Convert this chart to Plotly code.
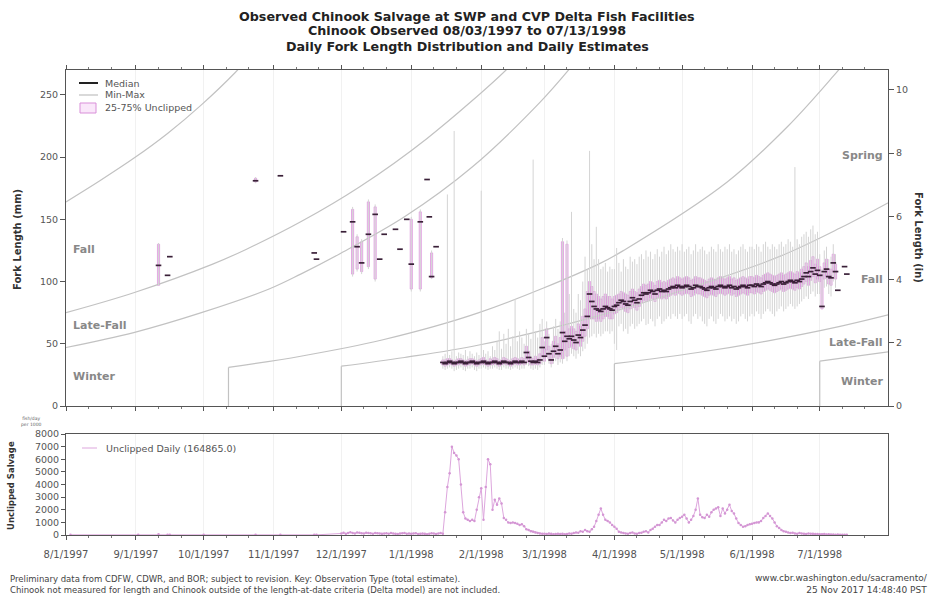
import pandas as pd
import plotly.graph_objects as go

START = pd.Timestamp("1997-08-01")
END = pd.Timestamp("1998-07-31 06:00")

# ---------------- DATA (days counted from 8/1/1997) ----------------
# scattered early fork-length observations (mm)
early_days = [41, 45, 46, 84, 95, 110, 111, 123, 127, 129, 131, 134, 137, 139, 141, 146, 148, 151, 153, 157, 160, 161, 162, 164]
early_med = [113, 105, 120, 181, 185, 123, 118, 140, 148, 128, 115, 138, 154, 118, 138, 142, 126, 150, 114, 148, 182, 152, 104, 128]
early_q1 = [97, 105, 120, 180, 185, 123, 118, 140, 106, 110, 108, 112, 102, 118, 138, 142, 126, 150, 94, 94, 182, 152, 103, 128]
early_q3 = [130, 105, 120, 183, 185, 123, 118, 140, 158, 136, 132, 164, 160, 118, 138, 142, 126, 150, 150, 156, 182, 152, 123, 128]
early_min = [97, 105, 120, 179, 185, 123, 118, 140, 104, 108, 106, 110, 100, 118, 138, 142, 126, 150, 92, 92, 182, 152, 102, 128]
early_max = [131, 105, 120, 184, 185, 123, 118, 140, 160, 138, 134, 166, 162, 118, 138, 142, 126, 150, 152, 158, 182, 152, 125, 128]

# daily fork-length statistics 1/15/1998 .. 7/13/1998 (days 167..346)
daily_days = list(range(167, 347))
daily_med = [
    35, 34, 35, 36, 35, 34, 35, 35, 36, 35, 34, 35, 35, 36, 35, 34, 35,
    35, 36, 35, 34, 35, 35, 36, 35, 34, 35, 36, 35, 35, 34, 35, 36, 35, 35, 36, 35, 43, 39, 36, 35, 36, 35, 37, 47,
    40, 55, 42, 37, 44, 48, 42, 45, 59, 52, 56, 54, 56, 53, 51, 57, 55, 61, 65, 72, 90, 84, 80, 78, 77, 76, 78, 80, 79, 78, 77,
    80, 81, 83, 85, 84, 82, 81, 84, 87, 85, 83, 86, 89, 91, 90, 91, 93, 92, 90, 93, 94, 92, 93, 92, 94, 95, 96, 95, 97, 96,
    95, 96, 97, 96, 94, 95, 97, 96, 96, 95, 94, 93, 95, 96, 95, 94, 96, 97, 96, 95, 96, 97, 95, 96, 94, 95, 96, 97, 96, 95, 97,
    97, 96, 98, 97, 96, 98, 99, 100, 99, 98, 97, 98, 99, 100, 98, 99, 100, 101, 100, 99, 101, 100, 102, 104, 107, 104, 108, 111, 106, 109,
    105, 80, 108, 110, 104, 103, 115, 108, 93, None, None, 112, 106]
daily_q1 = [
    33, 32, 33, 34, 33, 32, 33, 33, 34, 33, 32, 33, 33, 34, 33, 32, 33,
    33, 34, 33, 32, 33, 33, 34, 33, 32, 33, 34, 33, 33, 32, 33, 34, 33, 33, 34, 33, 38, 35, 33, 33, 34, 33, 34, 40,
    36, 45, 38, 34, 39, 42, 38, 40, 38, 45, 40, 47, 48, 46, 45, 50, 48, 52, 56, 62, 70, 70, 70, 68, 70, 68, 70, 72, 72, 70, 70,
    74, 75, 77, 79, 78, 76, 75, 78, 81, 79, 77, 80, 83, 85, 84, 85, 87, 86, 84, 87, 88, 86, 87, 86, 88, 89, 90, 89, 91, 90,
    89, 90, 91, 90, 88, 89, 91, 90, 90, 89, 88, 87, 89, 90, 89, 88, 90, 91, 90, 89, 90, 91, 89, 90, 88, 89, 90, 91, 90, 89, 91,
    91, 90, 92, 91, 90, 92, 93, 94, 93, 92, 91, 92, 93, 94, 92, 93, 94, 95, 94, 93, 95, 94, 96, 98, 100, 97, 101, 104, 99, 102,
    100, 78, 102, 104, 98, 97, 108, 102, 93, None, None, 112, 106]
daily_q3 = [
    37, 37, 38, 38, 37, 36, 37, 38, 38, 37, 36, 37, 38, 38, 37, 36, 37,
    38, 39, 37, 36, 38, 37, 39, 38, 36, 37, 39, 38, 37, 36, 38, 39, 38, 37, 39, 38, 48, 44, 39, 38, 40, 38, 42, 55,
    46, 62, 48, 42, 52, 56, 50, 55, 132, 60, 130, 62, 64, 62, 60, 66, 64, 72, 78, 92, 100, 96, 92, 90, 88, 86, 88, 90, 88, 88, 86,
    88, 89, 90, 92, 91, 90, 89, 92, 94, 92, 91, 94, 96, 98, 97, 98, 100, 99, 97, 100, 101, 99, 100, 99, 101, 102, 103, 102, 104, 103,
    102, 103, 104, 103, 101, 102, 104, 103, 103, 102, 101, 100, 102, 103, 102, 101, 103, 104, 103, 102, 103, 104, 102, 103, 101, 102, 103, 104, 103, 102, 104,
    104, 103, 105, 104, 103, 105, 106, 107, 106, 105, 104, 105, 106, 107, 105, 106, 107, 108, 107, 106, 108, 107, 110, 112, 115, 112, 117, 120, 114, 118,
    112, 106, 115, 118, 110, 110, 122, 114, 93, None, None, 112, 106]
daily_min = [
    30, 29, 30, 31, 30, 28, 29, 30, 31, 29, 28, 30, 30, 31, 29, 28, 30,
    30, 31, 30, 29, 30, 30, 31, 30, 29, 29, 31, 30, 30, 29, 30, 31, 30, 29, 30, 30, 33, 32, 30, 29, 30, 29, 31, 33,
    33, 40, 34, 31, 34, 36, 33, 35, 34, 38, 36, 40, 42, 40, 38, 42, 40, 44, 46, 50, 55, 56, 58, 55, 58, 56, 58, 60, 60, 58, 60,
    50, 45, 64, 66, 60, 62, 58, 64, 66, 62, 64, 66, 68, 70, 65, 66, 70, 68, 64, 70, 72, 66, 68, 70, 72, 70, 74, 72, 70, 74,
    70, 72, 74, 68, 66, 72, 74, 70, 72, 68, 66, 64, 70, 72, 68, 66, 70, 74, 72, 68, 70, 72, 68, 70, 66, 68, 72, 74, 70, 68, 72,
    74, 72, 76, 74, 70, 74, 76, 78, 76, 74, 72, 76, 78, 80, 76, 78, 80, 82, 80, 78, 80, 82, 84, 86, 88, 86, 90, 92, 88, 90,
    90, 78, 95, 96, 90, 88, 100, 95, 93, None, None, 112, 106]
daily_max = [
    40, 42, 170, 41, 44, 221, 40, 43, 42, 41, 45, 40, 44, 42, 40, 43, 41,
    173, 45, 42, 44, 40, 48, 45, 52, 60, 46, 58, 50, 62, 48, 56, 86, 52, 60, 55, 50, 62, 58, 54, 198, 60, 55, 66, 70,
    52, 68, 58, 50, 64, 70, 62, 68, 135, 75, 133, 90, 156, 78, 75, 90, 85, 100, 120, 110, 205, 130, 118, 144, 118, 110, 112, 115, 108, 112, 110,
    110, 127, 115, 108, 118, 112, 110, 120, 116, 118, 114, 120, 122, 118, 125, 120, 124, 118, 122, 126, 120, 124, 128, 122, 125, 130, 126, 124, 128, 125,
    130, 124, 126, 128, 122, 125, 130, 124, 126, 128, 125, 122, 124, 128, 126, 124, 130, 126, 124, 128, 126, 130, 124, 126, 122, 125, 128, 130, 126, 124, 128,
    128, 126, 130, 128, 124, 130, 132, 128, 126, 130, 128, 126, 130, 132, 128, 130, 134, 132, 128, 192, 134, 130, 136, 138, 140, 136, 142, 145, 138, 140,
    122, 110, 125, 128, 118, 120, 130, 122, 93, None, None, 112, 106]

# daily unclipped salvage
salv_days = [2, 32, 41, 45, 46, 61, 84, 95, 110, 111] + list(range(122, 347))
salv_vals = [12, 12, 60, 12, 12, 12, 24, 12, 24, 12,
    120, 180, 90, 150, 210, 160, 120, 200, 170, 140, 110, 180, 150, 130, 100, 160, 140, 120, 90, 110,
    130, 100, 150, 120, 90, 80, 110, 130, 150, 100, 120, 90, 110, 140, 80, 100, 120, 90, 60, 100,
    130, 110, 80, 120, 150,
    100, 1800, 3800, 4900, 7000, 6500, 6300, 6000, 4000, 1800, 1300, 1200, 1100, 1200, 1100, 2000, 3000,
    3700, 1200, 3800, 6000, 5600, 2000, 2800, 2400, 2900, 2500, 1350, 1200, 1000, 950, 1000, 950, 900,
    800, 850, 700, 450, 400, 300, 250, 200, 150, 120, 100,
    100, 80, 120, 90, 60, 80, 100, 70, 90, 60, 80, 120, 100, 150, 200, 180, 300, 250, 400, 300, 250,
    450, 650, 1100, 1600, 2100, 1600, 1200, 1100, 1000, 800,
    650, 500, 250, 200, 150, 120, 100, 150, 200, 120, 100, 150, 180, 250, 300, 200, 400, 500, 650, 800,
    800, 1000, 1200, 1100, 1300, 1350, 1150, 1000, 1200, 1350,
    1450, 1600, 1300, 1000, 1200, 1500, 2000, 2900, 1600, 1400, 1350, 1600, 1450, 1800, 2000, 2100,
    2200, 1500, 2100, 1700, 2000, 2400, 1900, 1700, 1300, 950, 800, 650, 700, 800, 850,
    900, 950, 1000, 1000, 1100, 1350, 1500, 1700, 1500, 1300, 1000, 700, 550, 400, 300, 250, 200, 150,
    180, 120, 100, 150, 120, 100, 80, 120, 100, 90, 70, 80,
    60, 50, 80, 40, 50, 30, 40, 20, 30, 10, 20, 10, 15]

# length-at-date criteria curves (days, mm, starts with a step)
crit_curves = {
    "A": ([0, 15, 30, 45, 60, 75, 80], [164, 181, 199, 219, 242, 268, 278], False),
    "B": ([0, 30, 65, 80, 104, 130, 160, 195, 200], [75, 91, 114, 126, 148, 176, 215, 270, 280], False),
    "C": ([0, 30, 60, 90, 104, 121, 150, 180, 210, 225], [47, 59, 75, 94, 106, 122, 152, 192, 244, 275], False),
    "D": ([72, 104, 140, 183, 236, 248, 293, 320, 340, 346], [31, 40, 53, 75, 114, 126, 180, 225, 265, 278], True),
    "E": ([122, 150, 183, 237, 280, 316, 343, 366], [32, 39, 49, 73, 97, 120, 143, 165], True),
    "F": ([243, 280, 310, 343, 366], [34, 43, 52, 64, 74], True),
    "G": ([334, 366], [36, 44], True),
}
left_labels = [("Fall", 126), ("Late-Fall", 65), ("Winter", 24)]
right_labels = [("Spring", 201), ("Fall", 102), ("Late-Fall", 51), ("Winter", 20)]
legend_top = ["Median", "Min-Max", "25-75% Unclipped"]
salv_total = "164865.0"

# ---------------- helpers ----------------
def dt(d):
    return START + pd.Timedelta(days=d)

# page pixel -> paper coordinates (plot area x 66..888, y 70..535)
def px(x):
    return (x - 66) / 822

def py(y):
    return (535 - y) / 465

FONT = "DejaVu Sans"
fig = go.Figure()

# criteria curves
for name, (days, mm, step) in crit_curves.items():
    if step:
        fig.add_trace(go.Scatter(x=[dt(days[0]), dt(days[0])], y=[0, mm[0]], mode="lines",
                                 line=dict(color="#c2c2c2", width=1.2), showlegend=False, hoverinfo="skip",
                                 xaxis="x", yaxis="y"))
    fig.add_trace(go.Scatter(x=[dt(d) for d in days], y=mm, mode="lines",
                             line=dict(color="#c2c2c2", width=1.2, shape="spline", smoothing=1.0),
                             showlegend=False, hoverinfo="skip", xaxis="x", yaxis="y"))

all_days = early_days + daily_days
all_med = early_med + daily_med
all_q1 = early_q1 + daily_q1
all_q3 = early_q3 + daily_q3
all_min = early_min + daily_min
all_max = early_max + daily_max

# min-max whiskers
wx, wy = [], []
for d, lo, hi in zip(all_days, all_min, all_max):
    if lo is None or hi is None or hi <= lo:
        continue
    wx += [dt(d), dt(d), None]
    wy += [lo, hi, None]
fig.add_trace(go.Scatter(x=wx, y=wy, mode="lines", line=dict(color="#d4d4d4", width=1),
                         showlegend=False, hoverinfo="skip", xaxis="x", yaxis="y"))

# 25-75% boxes
bx, bbase, bh = [], [], []
for d, a, b in zip(all_days, all_q1, all_q3):
    if a is None or b is None or b <= a:
        continue
    bx.append(dt(d)); bbase.append(a); bh.append(b - a)
fig.add_trace(go.Bar(x=bx, y=bh, base=bbase, width=0.95 * 86400000,
                     marker=dict(color="rgba(236,170,236,0.55)", line=dict(color="#d98fd9", width=0.7)),
                     showlegend=False, hoverinfo="skip", xaxis="x", yaxis="y"))

# medians
mx = [dt(d) for d, m in zip(all_days, all_med) if m is not None]
my = [m for m in all_med if m is not None]
fig.add_trace(go.Scatter(x=mx, y=my, mode="markers",
                         marker=dict(symbol="line-ew", size=4, line=dict(width=1.7, color="#3a2038")),
                         showlegend=False, hoverinfo="skip", xaxis="x", yaxis="y"))

# invisible trace for right axis
fig.add_trace(go.Scatter(x=[dt(0)], y=[0], mode="markers", marker=dict(opacity=0),
                         showlegend=False, hoverinfo="skip", xaxis="x", yaxis="y2"))

# bottom panel salvage
fig.add_trace(go.Scatter(x=[dt(d) for d in salv_days], y=salv_vals, mode="lines+markers",
                         line=dict(color="#dda6dd", width=1), marker=dict(size=2.5, color="#d496d4"),
                         showlegend=False, hoverinfo="skip", xaxis="x2", yaxis="y3"))

# ---------------- layout ----------------
minor_vals = []
for m in pd.date_range(START, END, freq="MS"):
    minor_vals += [m + pd.Timedelta(days=10), m + pd.Timedelta(days=20)]

tickfont = dict(family=FONT, size=9.5, color="#555555")
axcommon = dict(showline=True, linecolor="#555555", linewidth=1, ticks="outside", tickcolor="#555555",
                tickfont=tickfont, zeroline=False)

top_dom = [py(406), 1.0]
bot_dom = [0.0, py(434)]

fig.update_layout(
    width=935, height=603, margin=dict(l=66, r=47, t=70, b=68),
    paper_bgcolor="white", plot_bgcolor="white", barmode="overlay", showlegend=False,
    font=dict(family=FONT, size=9, color="#444444"),
    xaxis=dict(**axcommon, domain=[0, 1], anchor="y", range=[START, END], type="date",
               tickmode="linear", tick0=START, dtick="M1", ticklen=4, showticklabels=False,
               mirror="ticks", showgrid=True, gridcolor="#f1f1f1",
               minor=dict(tickmode="array", tickvals=minor_vals, ticks="outside", ticklen=2,
                          tickcolor="#777777", showgrid=False)),
    yaxis=dict(**axcommon, domain=top_dom, anchor="x", range=[0, 270], tickmode="linear", tick0=0,
               dtick=50, ticklen=5, showgrid=False),
    yaxis2=dict(**axcommon, overlaying="y", side="right", anchor="x", range=[0, 270 / 25.4],
                tickmode="linear", tick0=0, dtick=2, ticklen=5, showgrid=False),
    xaxis2=dict(**axcommon, domain=[0, 1], anchor="y3", range=[START, END], type="date",
                tickmode="linear", tick0=START, dtick="M1", ticklen=4, tickformat="%-m/%-d/%Y",
                ticklabelstandoff=6, mirror=True, showgrid=True, gridcolor="#f1f1f1",
                minor=dict(tickmode="array", tickvals=minor_vals, ticks="outside", ticklen=2,
                           tickcolor="#777777", showgrid=False)),
    yaxis3=dict(**axcommon, domain=bot_dom, anchor="x2", range=[0, 8000], tickmode="linear", tick0=0,
                dtick=1000, ticklen=4, mirror=True, showgrid=False),
)
fig.update_xaxes(tickfont=dict(family=FONT, size=10, color="#555555"), selector=dict(anchor="y3"))

# manual legends (top panel and bottom panel)
shapes = [
    dict(type="line", xref="paper", yref="paper", x0=px(79), x1=px(98), y0=py(83), y1=py(83),
         line=dict(color="#222222", width=2)),
    dict(type="line", xref="paper", yref="paper", x0=px(79), x1=px(98), y0=py(95), y1=py(95),
         line=dict(color="#c0c0c0", width=1.2)),
    dict(type="rect", xref="paper", yref="paper", x0=px(80), x1=px(96), y0=py(113), y1=py(103),
         fillcolor="rgba(246,215,246,0.6)", line=dict(color="#d98fd9", width=1)),
    dict(type="line", xref="paper", yref="paper", x0=px(82), x1=px(97), y0=py(448), y1=py(448),
         line=dict(color="#dda6dd", width=1)),
]
fig.update_layout(shapes=shapes)

def A(text, x, y, size, color="#555555", xa="center", ya="middle", angle=0, align="center"):
    return dict(text=text, xref="paper", yref="paper", x=x, y=y, xanchor=xa, yanchor=ya,
                textangle=angle, align=align, showarrow=False,
                font=dict(family=FONT, size=size, color=color))

ann = []
for txt, ypx in zip(legend_top, [83, 95, 108]):
    ann.append(A(txt, px(103), py(ypx), 9.5, xa="left"))
ann.append(A(f"Unclipped Daily ({salv_total})", px(104), py(448), 9.5, xa="left"))

titles = ["Observed Chinook Salvage at SWP and CVP Delta Fish Facilities",
          "Chinook Observed 08/03/1997 to 07/13/1998",
          "Daily Fork Length Distribution and Daily Estimates"]
for t, ypx in zip(titles, [17, 31, 46]):
    ann.append(A(f"<b>{t}</b>", px(467), py(ypx), 12.7, color="#222222"))
ann.append(A("<b>Fork Length (mm)</b>", px(17), py(240), 10, color="#333333", angle=-90))
ann.append(A("<b>Fork Length (in)</b>", px(919), py(238), 10, color="#333333", angle=90))
ann.append(A("<b>Unclipped Salvage</b>", px(11), py(486), 8.5, color="#333333", angle=-90))
ann.append(A("fish/day<br>per 1000", px(31), py(421), 4.5, color="#666666"))
for txt, yv in left_labels:
    a = A(f"<b>{txt}</b>", px(71), yv, 11, color="#888888", xa="left")
    a["yref"] = "y"
    ann.append(a)
for txt, yv in right_labels:
    a = A(f"<b>{txt}</b>", px(885), yv, 11, color="#888888", xa="right")
    a["yref"] = "y"
    ann.append(a)
ann.append(A("Preliminary data from CDFW, CDWR, and BOR; subject to revision. Key: Observation Type (total estimate).<br>"
             "Chinook not measured for length and Chinook outside of the length-at-date criteria (Delta model) are not included.",
             px(8), py(584), 8.5, color="#444444", xa="left", align="left"))
ann.append(A("www.cbr.washington.edu/sacramento/<br>25 Nov 2017 14:48:40 PST",
             px(930), py(584), 9, color="#444444", xa="right", align="right"))
fig.update_layout(annotations=ann)

fig.write_html("out.html")
